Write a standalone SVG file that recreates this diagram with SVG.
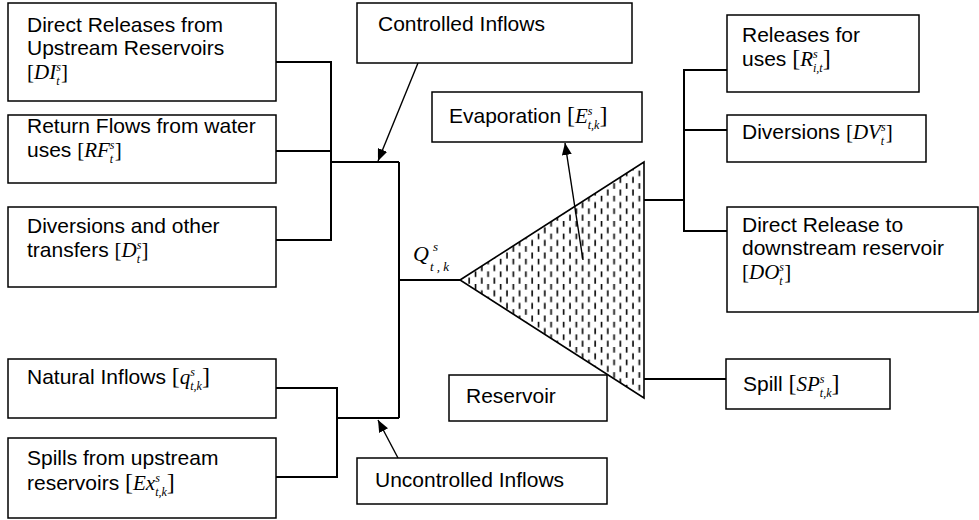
<svg xmlns="http://www.w3.org/2000/svg" width="979" height="520" viewBox="0 0 979 520">
<style>
.box{fill:#fff;stroke:#000;stroke-width:1.5}
.t{font-family:"Liberation Sans",Arial,sans-serif;font-size:21px;fill:#000}
.m{font-family:"Liberation Serif","Times New Roman",serif;font-style:italic}
.u{font-family:"Liberation Serif","Times New Roman",serif;font-style:normal}
.sc{font-size:12px}
.c{stroke:#000;stroke-width:2;fill:none}
.a{stroke:#000;stroke-width:1.4;fill:none;marker-end:url(#ah)}
.res{fill:url(#hatch);stroke:#000;stroke-width:1.6}
</style>
<defs>
<marker id="ah" viewBox="0 0 12 10" refX="12" refY="5" markerWidth="12" markerHeight="10" markerUnits="userSpaceOnUse" orient="auto"><path d="M0,0 L12,5 L0,10 z" fill="#000"/></marker>
<pattern id="hatch" patternUnits="userSpaceOnUse" width="12.6" height="12.6">
<rect width="12.6" height="12.6" fill="#fff"/>
<line x1="3" y1="0.5" x2="3" y2="6.5" stroke="#000" stroke-width="1.6"/>
<line x1="9.3" y1="6.8" x2="9.3" y2="12.4" stroke="#000" stroke-width="1.6"/>
</pattern>
</defs>
<rect width="979" height="520" fill="#fff"/>

<g id="connectors">
<polyline class="c" points="276,62 331,62 331,240 276,240"/>
<line class="c" x1="276" y1="151" x2="331" y2="151"/>
<line class="c" x1="331" y1="162" x2="399" y2="162"/>
<line class="c" x1="399" y1="162" x2="399" y2="418"/>
<line class="c" x1="337" y1="418" x2="399" y2="418"/>
<polyline class="c" points="276,388 337,388 337,477 276,477"/>
<line class="c" x1="399" y1="280" x2="460" y2="280"/>
<line class="c" x1="644" y1="200" x2="684" y2="200"/>
<polyline class="c" points="727,70 684,70 684,231 727,231"/>
<line class="c" x1="684" y1="130" x2="727" y2="130"/>
<line class="c" x1="644" y1="379" x2="726" y2="379"/>
<line class="a" x1="418" y1="63" x2="378" y2="161"/>
<line class="a" x1="398" y1="458" x2="378" y2="420"/>
</g>

<g id="reservoir-shape">
<polygon class="res" points="460,280 644,162 644,398"/>
</g>

<g id="evap-arrow">
<line class="a" x1="583" y1="260" x2="565" y2="143"/>
</g>

<g id="direct-releases">
<rect class="box" x="8" y="3" width="268" height="98"/>
<text class="t" x="27" y="32">Direct Releases from</text>
<text class="t" x="27" y="55">Upstream Reservoirs</text>
<text class="t" x="27" y="79"><tspan class="u">[</tspan><tspan class="m">DI</tspan><tspan class="m sc" dy="-8">s</tspan><tspan class="m sc" dx="-4.7" dy="14">t</tspan><tspan class="u" dx="1.5" dy="-6">]</tspan></text>
</g>

<g id="return-flows">
<rect class="box" x="8" y="115" width="268" height="68"/>
<text class="t" x="27" y="133">Return Flows from water</text>
<text class="t" x="27" y="157">uses <tspan class="u">[</tspan><tspan class="m">RF</tspan><tspan class="m sc" dy="-8">s</tspan><tspan class="m sc" dx="-4.7" dy="14">t</tspan><tspan class="u" dx="1.5" dy="-6">]</tspan></text>
</g>

<g id="diversions-transfers">
<rect class="box" x="8" y="207" width="268" height="80"/>
<text class="t" x="27" y="233">Diversions and other</text>
<text class="t" x="27" y="257">transfers <tspan class="u">[</tspan><tspan class="m">D</tspan><tspan class="m sc" dy="-8">s</tspan><tspan class="m sc" dx="-4.7" dy="14">t</tspan><tspan class="u" dx="1.5" dy="-6">]</tspan></text>
</g>

<g id="natural-inflows">
<rect class="box" x="8" y="359" width="268" height="59"/>
<text class="t" x="27" y="384">Natural Inflows <tspan class="u" font-size="24">[</tspan><tspan class="m">q</tspan><tspan class="m sc" dy="-8">s</tspan><tspan class="m sc" dx="-4.7" dy="14">t,k</tspan><tspan class="u" font-size="24" dy="-6">]</tspan></text>
</g>

<g id="spills-upstream">
<rect class="box" x="8" y="438" width="268" height="80"/>
<text class="t" x="27" y="465">Spills from upstream</text>
<text class="t" x="27" y="490">reservoirs <tspan class="u" font-size="24">[</tspan><tspan class="m">Ex</tspan><tspan class="m sc" dy="-8">s</tspan><tspan class="m sc" dx="-4.7" dy="14">t,k</tspan><tspan class="u" font-size="24" dy="-6">]</tspan></text>
</g>

<g id="controlled-inflows">
<rect class="box" x="357" y="3" width="275" height="60"/>
<text class="t" x="378" y="31">Controlled Inflows</text>
</g>

<g id="evaporation">
<rect class="box" x="432" y="92" width="210" height="50"/>
<text class="t" x="449" y="123">Evaporation <tspan class="u" font-size="24">[</tspan><tspan class="m">E</tspan><tspan class="m sc" dy="-8">s</tspan><tspan class="m sc" dx="-4.7" dy="14">t,k</tspan><tspan class="u" font-size="24" dy="-6">]</tspan></text>
</g>

<g id="q-label">
<text x="413" y="261" font-family="Liberation Serif, Times New Roman, serif" font-style="italic" font-size="22">Q</text>
<text x="433" y="251" font-family="Liberation Serif, Times New Roman, serif" font-style="italic" font-size="13">s</text>
<text x="430" y="271" font-family="Liberation Serif, Times New Roman, serif" font-style="italic" font-size="13">t , k</text>
</g>

<g id="reservoir">
<rect class="box" x="449" y="375" width="158" height="46"/>
<text class="t" x="466" y="403">Reservoir</text>
</g>

<g id="uncontrolled-inflows">
<rect class="box" x="357" y="458" width="250" height="46"/>
<text class="t" x="375" y="487">Uncontrolled Inflows</text>
</g>

<g id="releases-uses">
<rect class="box" x="727" y="15" width="192" height="77"/>
<text class="t" x="742" y="42">Releases for</text>
<text class="t" x="742" y="66">uses <tspan class="u" font-size="24">[</tspan><tspan class="m">R</tspan><tspan class="m sc" dy="-8">s</tspan><tspan class="m sc" dx="-4.7" dy="14">i,t</tspan><tspan class="u" font-size="24" dy="-6">]</tspan></text>
</g>

<g id="diversions">
<rect class="box" x="727" y="115" width="199" height="47"/>
<text class="t" x="742" y="139">Diversions <tspan class="u">[</tspan><tspan class="m">DV</tspan><tspan class="m sc" dy="-8">s</tspan><tspan class="m sc" dx="-4.7" dy="14">t</tspan><tspan class="u" dx="1.5" dy="-6">]</tspan></text>
</g>

<g id="direct-release-downstream">
<rect class="box" x="727" y="207" width="251" height="105"/>
<text class="t" x="742" y="232">Direct Release to</text>
<text class="t" x="742" y="255">downstream reservoir</text>
<text class="t" x="742" y="279"><tspan class="u">[</tspan><tspan class="m">DO</tspan><tspan class="m sc" dy="-8">s</tspan><tspan class="m sc" dx="-4.7" dy="14">t</tspan><tspan class="u" dx="1.5" dy="-6">]</tspan></text>
</g>

<g id="spill">
<rect class="box" x="726" y="359" width="164" height="50"/>
<text class="t" x="743" y="391">Spill <tspan class="u" font-size="24">[</tspan><tspan class="m">SP</tspan><tspan class="m sc" dy="-8">s</tspan><tspan class="m sc" dx="-4.7" dy="14">t,k</tspan><tspan class="u" font-size="24" dy="-6">]</tspan></text>
</g>
</svg>
